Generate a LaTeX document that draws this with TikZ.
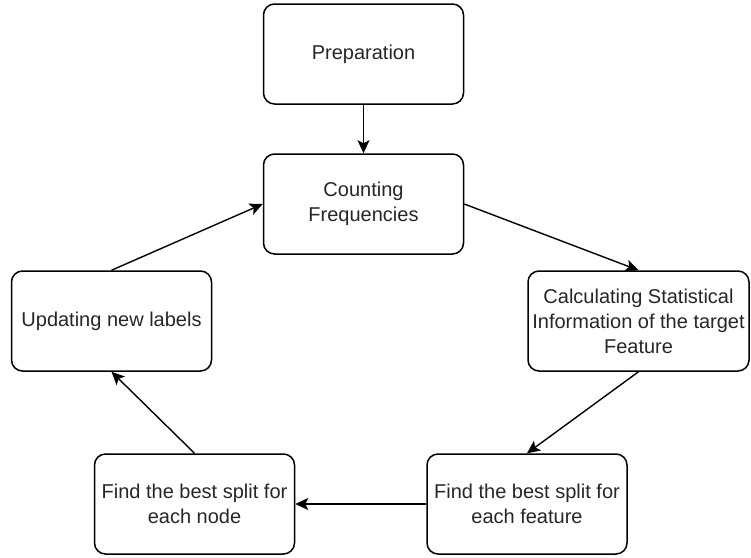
\documentclass[tikz,border=0pt]{standalone}
\usepackage{fontspec}
\setmainfont{Liberation Sans}
\usetikzlibrary{arrows.meta}
\begin{document}
\begin{tikzpicture}[x=1pt,y=-1pt,
  stepbox/.style={draw=black, line width=1.5pt, rounded corners=11pt,
    minimum width=200pt, minimum height=100pt, inner sep=0pt,
    align=center, text=black!85, font=\fontsize{20}{25}\selectfont},
  flow/.style={draw=black, line width=1.4pt,
    -{Stealth[length=13pt, width=12pt, inset=3pt]}}]
  \path[use as bounding box] (0,0) rectangle (751,557);

  \node[stepbox] (prep)   at (363.5,54)  {Preparation};
  \node[stepbox] (count)  at (363.5,204) {Counting\\Frequencies};
  \node[stepbox, minimum width=221pt] (calc) at (638.5,321)
    {Calculating Statistical\\Information of the target\\Feature};
  \node[stepbox] (feat)   at (527,504)   {Find the best split for\\each feature};
  \node[stepbox] (split)  at (194.5,504) {Find the best split for\\each node};
  \node[stepbox] (update) at (111.5,321) {Updating new labels};

  \draw[flow] (prep.south)   -- (count.north);
  \draw[flow] (count.east)   -- (calc.north);
  \draw[flow] (calc.south)   -- (feat.north);
  \draw[flow] (feat.west)    -- (split.east);
  \draw[flow] (split.north)  -- (update.south);
  \draw[flow] (update.north) -- (count.west);
\end{tikzpicture}
\end{document}
